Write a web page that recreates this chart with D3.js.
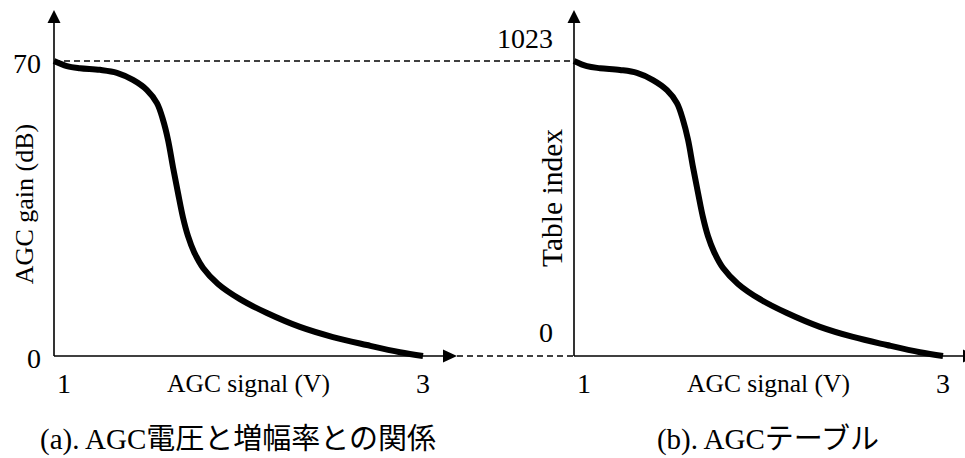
<!DOCTYPE html>
<html>
<head>
<meta charset="utf-8">
<script src="https://cdn.jsdelivr.net/npm/d3@7"></script>
<style>
  body { margin: 0; background: #fff; }
  text { font-family: "Liberation Serif", "Times New Roman", "Noto Sans CJK JP", serif; fill: #000; }
</style>
</head>
<body>
<script>
// dati (stessa curva nei due pannelli)
var agcSignal = [1.000, 1.070, 1.141, 1.249, 1.341, 1.428, 1.504, 1.558, 1.591, 1.618, 1.645, 1.672, 1.699, 1.726, 1.759, 1.808, 1.889, 2.008, 2.154, 2.333, 2.512, 2.696, 2.875, 3.000];
var agcGain = [70, 68.8, 68.3, 67.9, 67.2, 65.5, 63.1, 60.0, 56.0, 51.3, 44.8, 38.7, 32.9, 28.5, 24.7, 20.9, 17.1, 13.5, 10.2, 6.9, 4.5, 2.6, 0.9, 0];
var tableIndex = [1023, 1005, 998, 992, 982, 957, 922, 877, 818, 750, 655, 566, 481, 416, 361, 305, 250, 197, 149, 101, 66, 38, 13, 0];

var xTicks = [1, 3];
var gainTicks = [0, 70];
var indexTicks = [0, 1023];

var width = 965;
var height = 458;

var svg = d3.select("body").append("svg")
    .attr("width", width)
    .attr("height", height);

// scale dei due pannelli
var xA = d3.scaleLinear().domain([1, 3]).range([54, 423]);
var xB = d3.scaleLinear().domain([1, 3]).range([574, 943]);
var yA = d3.scaleLinear().domain([0, 70]).range([356, 61]);
var yB = d3.scaleLinear().domain([0, 1023]).range([356, 61]);

function arrowUp(x, y) {
    svg.append("polygon")
        .attr("points", x + "," + y + " " + (x - 6.5) + "," + (y + 13) + " " + (x + 6.5) + "," + (y + 13))
        .attr("fill", "#000");
}
function arrowRight(x, y) {
    svg.append("polygon")
        .attr("points", x + "," + y + " " + (x - 14) + "," + (y - 6.5) + " " + (x - 14) + "," + (y + 6.5))
        .attr("fill", "#000");
}

// linee tratteggiate di collegamento
svg.append("line")
    .attr("x1", xA(1)).attr("x2", xB(1))
    .attr("y1", yA(70)).attr("y2", yA(70))
    .attr("stroke", "#000").attr("stroke-width", 1.3)
    .attr("stroke-dasharray", "6,4");
svg.append("line")
    .attr("x1", xA(3) + 34).attr("x2", xB(1))
    .attr("y1", yA(0)).attr("y2", yA(0))
    .attr("stroke", "#000").attr("stroke-width", 1.3)
    .attr("stroke-dasharray", "6,4");

function drawPanel(x, y, values, yTicks, yLabel, caption, o) {
    // assi
    svg.append("line")
        .attr("x1", x(1)).attr("x2", x(1))
        .attr("y1", y.range()[0]).attr("y2", 20)
        .attr("stroke", "#000").attr("stroke-width", 1.6);
    svg.append("line")
        .attr("x1", x(1)).attr("x2", x(3) + 22)
        .attr("y1", y.range()[0]).attr("y2", y.range()[0])
        .attr("stroke", "#000").attr("stroke-width", 1.6);
    arrowUp(x(1), 10);
    arrowRight(x(3) + 34, y.range()[0]);

    // etichette tick
    xTicks.forEach(function (t, i) {
        svg.append("text")
            .attr("x", x(t) + (i == 0 ? 10 : 0))
            .attr("y", 393)
            .attr("text-anchor", "middle")
            .style("font-size", "28px")
            .text(t);
    });
    yTicks.forEach(function (t) {
        svg.append("text")
            .attr("x", x(1) - o.dx)
            .attr("y", y(t) + (t == 0 ? o.low : o.high))
            .attr("text-anchor", "end")
            .style("font-size", "28px")
            .text(t);
    });

    svg.append("text")
        .attr("x", (x(1) + x(3)) / 2 + 10)
        .attr("y", 392)
        .attr("text-anchor", "middle")
        .style("font-size", "25.5px")
        .text("AGC signal (V)");

    svg.append("text")
        .attr("transform", "translate(" + (x(1) - o.lab) + "," + o.labY + ") rotate(-90)")
        .attr("text-anchor", "middle")
        .style("font-size", o.labSize)
        .text(yLabel);

    svg.append("text")
        .attr("x", o.capX)
        .attr("y", 449)
        .attr("text-anchor", "middle")
        .style("font-size", "29px")
        .text(caption);

    // curva
    var line = d3.line()
        .x(function (d, i) { return x(agcSignal[i]); })
        .y(function (d) { return y(d); })
        .curve(d3.curveCatmullRom.alpha(0.5));
    svg.append("path")
        .datum(values)
        .attr("d", line)
        .attr("fill", "none")
        .attr("stroke", "#000")
        .attr("stroke-width", 6);
}

drawPanel(xA, yA, agcGain, gainTicks, "AGC gain (dB)", "(a). AGC電圧と増幅率との関係",
    {dx: 13, low: 12, high: 12, lab: 21, labY: 204, capX: 238, labSize: "26px"});
drawPanel(xB, yB, tableIndex, indexTicks, "Table index", "(b). AGCテーブル",
    {dx: 21, low: -14, high: -13, lab: 12, labY: 198, capX: 768, labSize: "29.5px"});
</script>
</body>
</html>
